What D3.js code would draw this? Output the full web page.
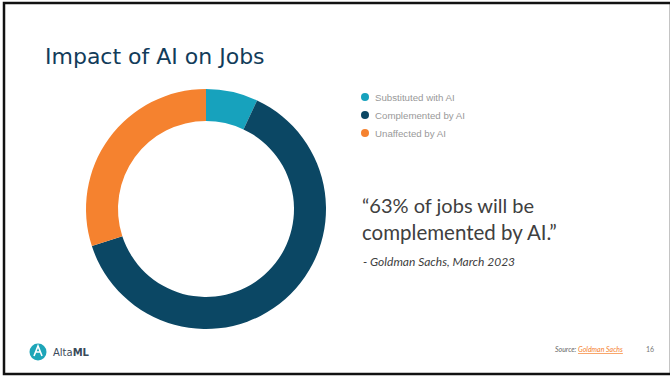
<!DOCTYPE html>
<html>
<head>
<meta charset="utf-8">
<script src="https://cdn.jsdelivr.net/npm/d3@7"></script>
<style>
  body { margin: 0; background: #fff; }
  svg { display: block; }
</style>
</head>
<body>
<div id="chart"></div>
<script>
var width = 670;
var height = 378;

// chart data
var categories = ["Substituted with AI", "Complemented by AI", "Unaffected by AI"];
var shares = [7, 63, 30];
var colors = ["#17a2bd", "#0b4764", "#f5822f"];

var svg = d3.select("#chart")
    .append("svg")
    .attr("width", width)
    .attr("height", height);

// slide frame
svg.append("rect")
    .attr("x", 4).attr("y", 3)
    .attr("width", width - 3).attr("height", 371)
    .attr("fill", "#fff")
    .attr("stroke", "#111")
    .attr("stroke-width", 2.5);

svg.append("text")
    .attr("x", 45).attr("y", 64)
    .attr("fill", "#123c5a")
    .attr("font-family", "DejaVu Sans")
    .attr("font-size", 22)
    .text("Impact of AI on Jobs");

// donut
var cx = 206, cy = 209;
var outerR = 120, innerR = 88;

var pie = d3.pie().sort(null).value(function(d) { return d; });
var arc = d3.arc().innerRadius(innerR).outerRadius(outerR);

var donut = svg.append("g")
    .attr("transform", `translate(${cx}, ${cy})`);

donut.selectAll("path")
    .data(pie(shares))
    .enter()
    .append("path")
    .attr("d", arc)
    .attr("fill", function(d, i) { return colors[i]; });

// legend
var legend = svg.append("g")
    .attr("transform", "translate(365, 97)");

var items = legend.selectAll("g")
    .data(categories)
    .enter()
    .append("g")
    .attr("transform", function(d, i) { return `translate(0, ${i * 18})`; });

items.append("circle")
    .attr("r", 4)
    .attr("fill", function(d, i) { return colors[i]; });

items.append("text")
    .attr("x", 10).attr("y", 3.5)
    .attr("fill", "#999")
    .attr("font-family", "Liberation Sans")
    .attr("font-size", 9.7)
    .text(function(d) { return d; });

// quote
var quote = svg.append("g").attr("font-family", "Lato");

quote.append("text")
    .attr("x", 362).attr("y", 213)
    .attr("fill", "#404040")
    .attr("font-size", 20)
    .text("\u201C63% of jobs will be");

quote.append("text")
    .attr("x", 362).attr("y", 240)
    .attr("fill", "#404040")
    .attr("font-size", 20.5)
    .text("complemented by AI.\u201D");

quote.append("text")
    .attr("x", 363).attr("y", 266)
    .attr("fill", "#404040")
    .attr("font-size", 12)
    .attr("font-style", "italic")
    .text("- Goldman Sachs, March 2023");

// footer logo
svg.append("circle")
    .attr("cx", 38).attr("cy", 352).attr("r", 8.5)
    .attr("fill", "#1ea5b8");

svg.append("path")
    .attr("d", "M34,356 L38,346 L42,356 M36,352 L40,352")
    .attr("stroke", "#fff").attr("stroke-width", 1.6)
    .attr("fill", "none");

var logo = svg.append("text")
    .attr("x", 53).attr("y", 356)
    .attr("fill", "#3a4a5a")
    .attr("font-family", "DejaVu Sans")
    .attr("font-size", 10);
logo.append("tspan").text("Alta");
logo.append("tspan").attr("font-weight", "bold").text("ML");

// footer source
var src = svg.append("text")
    .attr("x", 555).attr("y", 352)
    .attr("font-family", "Lato")
    .attr("font-size", 7)
    .attr("font-style", "italic");
src.append("tspan").attr("fill", "#666").text("Source: ");
src.append("tspan")
    .attr("fill", "#f5822f")
    .attr("text-decoration", "underline")
    .text("Goldman Sachs");

svg.append("text")
    .attr("x", 646).attr("y", 352)
    .attr("fill", "#777")
    .attr("font-family", "Lato")
    .attr("font-size", 7)
    .text("16");
</script>
</body>
</html>
